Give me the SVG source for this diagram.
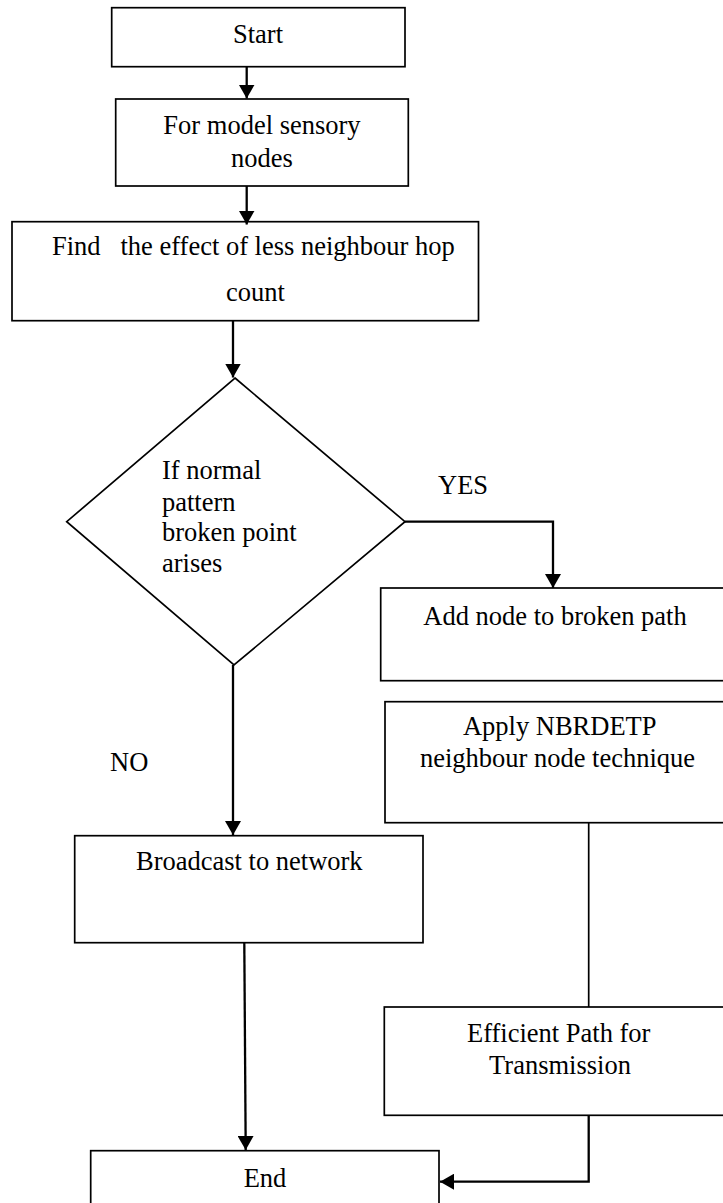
<svg xmlns="http://www.w3.org/2000/svg" width="723" height="1203" viewBox="0 0 723 1203">
  <style>
    .box { fill: #fff; stroke: #000; stroke-width: 1.7; }
    .t { font-size: 26.5px; fill: #000; }
    .c { text-anchor: middle; }
    .conn { fill: none; stroke: #000; stroke-width: 2.3; }
    .thin { fill: none; stroke: #000; stroke-width: 1.7; }
  </style>
  <defs>
    <marker id="ah" viewBox="0 0 14 16" refX="14" refY="8" markerWidth="14" markerHeight="16" markerUnits="userSpaceOnUse" orient="auto">
      <path d="M0,0 L14,8 L0,16 Z" fill="#000"/>
    </marker>
  </defs>
  <rect width="723" height="1203" fill="#fff"/>

  <g font-family="Liberation Serif, Times New Roman, Tinos, DejaVu Serif, serif">
  <g id="start">
    <rect class="box" x="111.7" y="7.7" width="293.3" height="59"/>
    <text class="t c" x="258" y="43.3">Start</text>
  </g>
  <g id="model">
    <rect class="box" x="115.7" y="99" width="292.6" height="87"/>
    <text class="t c" x="262" y="134">For model sensory</text>
    <text class="t c" x="262" y="166.7">nodes</text>
  </g>
  <g id="find">
    <rect class="box" x="12" y="221.7" width="466.5" height="99"/>
    <text class="t" x="52" y="255" xml:space="preserve">Find   the effect of less neighbour hop</text>
    <text class="t c" x="255.5" y="301">count</text>
  </g>
  <g id="decision">
    <polygon class="box" points="235,378 405,521.7 234,665 66.7,521.7"/>
    <text class="t" x="162" y="479.3">If normal</text>
    <text class="t" x="162" y="510.5">pattern</text>
    <text class="t" x="162" y="541.3">broken point</text>
    <text class="t" x="162" y="571.7">arises</text>
  </g>
  <g id="addnode">
    <rect class="box" x="380.7" y="588" width="360" height="92.7"/>
    <text class="t c" x="555" y="625">Add node to broken path</text>
  </g>
  <g id="apply">
    <rect class="box" x="385" y="701.7" width="360" height="121"/>
    <text class="t c" x="559.7" y="735">Apply NBRDETP</text>
    <text class="t c" x="557.5" y="767">neighbour node technique</text>
  </g>
  <g id="broadcast">
    <rect class="box" x="74.7" y="835.7" width="348.3" height="107"/>
    <text class="t c" x="249.3" y="870">Broadcast to network</text>
  </g>
  <g id="efficient">
    <rect class="box" x="384.3" y="1007" width="360" height="108.3"/>
    <text class="t c" x="558.7" y="1041.7">Efficient Path for</text>
    <text class="t c" x="560" y="1074">Transmission</text>
  </g>
  <g id="end">
    <rect class="box" x="90.7" y="1150.7" width="348.3" height="70"/>
    <text class="t c" x="265" y="1186.7">End</text>
  </g>

  <g id="connectors">
    <path class="conn" d="M246.7,66.7 V98.5" marker-end="url(#ah)"/>
    <path class="conn" d="M246.7,186 V224.5" marker-end="url(#ah)"/>
    <path class="conn" d="M233,321 V377.5" marker-end="url(#ah)"/>
    <path class="conn" d="M405,521.7 H553 V588" marker-end="url(#ah)"/>
    <path class="conn" d="M233,665 V835" marker-end="url(#ah)"/>
    <path class="conn" d="M244.3,942.7 L245.7,1150" marker-end="url(#ah)"/>
    <path class="thin" d="M588.7,822.7 V1007"/>
    <path class="conn" d="M588.7,1115.3 V1181.7 H440" marker-end="url(#ah)"/>
    <text class="t" x="438" y="494">YES</text>
    <text class="t" x="110" y="770.7">NO</text>
  </g>
  </g>
</svg>
